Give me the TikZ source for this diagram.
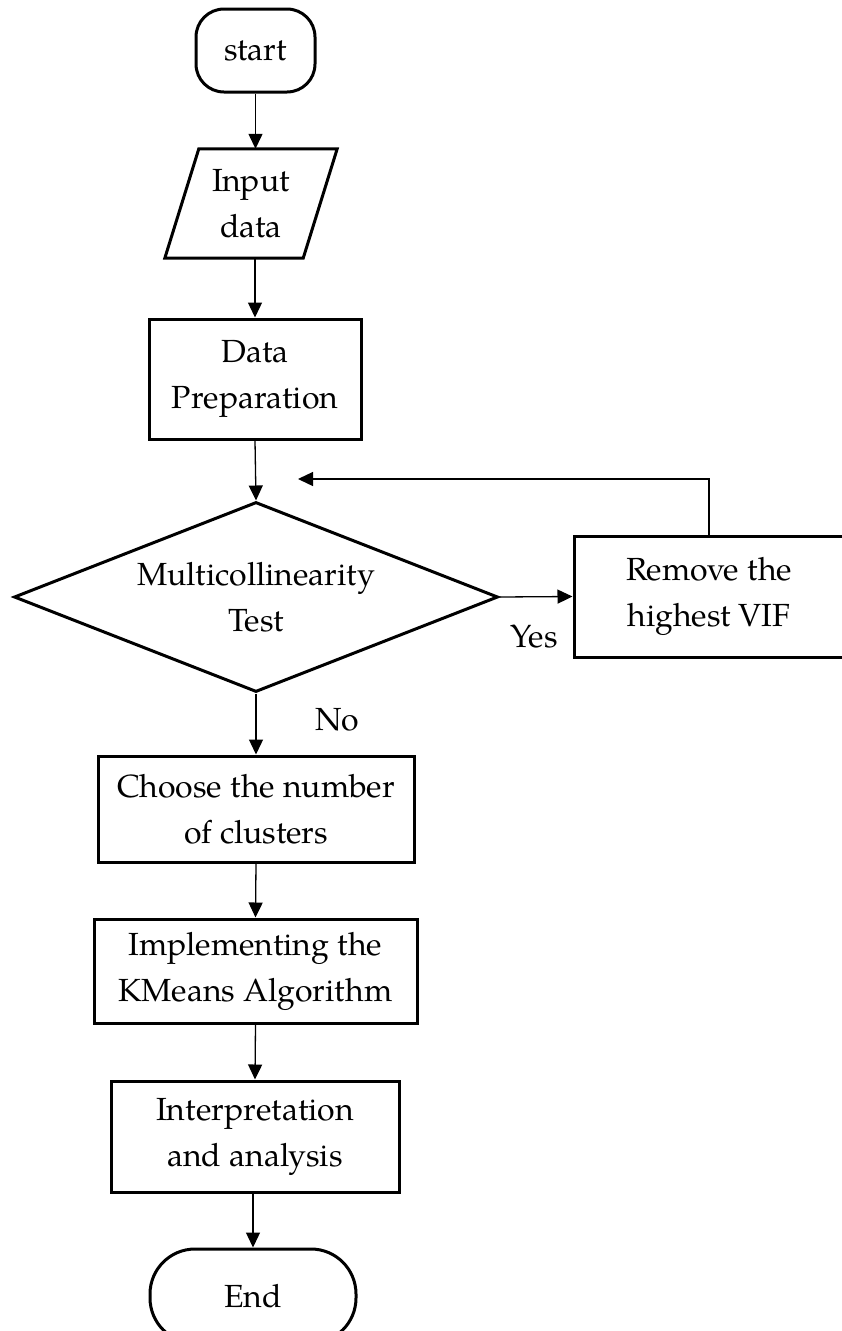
\documentclass[tikz,border=0pt]{standalone}
\usepackage{fontspec}
\setmainfont{TeX Gyre Pagella}
\usepackage{tikz}
\usetikzlibrary{shapes.geometric, arrows.meta, positioning}

\begin{document}
\begin{tikzpicture}[
        x=1pt, y=-1pt,
        >={Triangle[length=15pt, width=14pt]},
        baseNode/.style={
            draw=black,
            line width=3pt,
            inner sep=0pt,
            align=center,
            font=\fontsize{32}{46}\selectfont
        },
        termNode/.style={
            baseNode,
            rectangle,
            rounded corners=28pt
        },
        ioNode/.style={
            inner sep=0pt,
            align=center,
            minimum width=138pt,
            minimum height=109pt,
            font=\fontsize{32}{46}\selectfont
        },
        ioBorder/.style={
            draw=black,
            line width=3pt,
            line join=miter
        },
        procNode/.style={
            baseNode,
            rectangle
        },
        decisionNode/.style={
            baseNode,
            diamond,
            aspect=2.55,
            minimum width=484pt,
            minimum height=190pt
        },
        edgeLabel/.style={
            inner sep=0pt,
            font=\fontsize{32}{46}\selectfont
        },
        flowArrow/.style={
            ->,
            line width=1.3pt,
            black
        }
    ]
    \useasboundingbox (0,0) rectangle (842,1331);

    % Main column (coordinates taken from the layout grid)
    \node[termNode, minimum width=119pt, minimum height=83pt] (start) at (255.5, 50.5) {start};
    \node[ioNode] (input) at (251, 203.5) {Input\\data};
    \node[procNode, minimum width=212pt, minimum height=120pt] (prep) at (255, 379) {Data\\Preparation};
    \node[decisionNode] (multi) at (256, 597) {Multicollinearity\\Test};
    \node[procNode, minimum width=270pt, minimum height=121pt] (remove) at (709, 596.5) {Remove the\\highest VIF};
    \node[procNode, minimum width=316pt, minimum height=106pt] (choose) at (256, 809) {Choose the number\\of clusters};
    \node[procNode, minimum width=323pt, minimum height=104pt] (kmeans) at (255.5, 971) {Implementing the\\KMeans Algorithm};
    \node[procNode, minimum width=288pt, minimum height=111pt] (interp) at (255, 1136.5) {Interpretation\\and analysis};
    \node[termNode, rounded corners=45pt, minimum width=206pt, minimum height=94pt] (end) at (253, 1296) {End};

    % Slanted input box
    \draw[ioBorder] ([xshift=17pt]input.north west) -- ([xshift=17pt]input.north east)
        -- ([xshift=-17pt]input.south east) -- ([xshift=-17pt]input.south west) -- cycle;

    \coordinate (loopEnd) at (298, 479);

    % Labels
    \node[edgeLabel] (yesLabel) at (534, 637) {Yes};
    \node[edgeLabel] (noLabel) at (337, 720) {No};

    % Connections
    \draw[flowArrow] (start.south) -- (start.south |- input.north);
    \draw[flowArrow] (prep.north |- input.south) -- (prep.north);
    \draw[flowArrow] (prep.south) -- (multi.north);
    \draw[flowArrow] (multi.east) -- (remove.west);
    \draw[flowArrow] (remove.north) |- (loopEnd);
    \draw[flowArrow] (multi.south) -- (choose.north);
    \draw[flowArrow] (choose.south) -- (kmeans.north);
    \draw[flowArrow] (kmeans.south) -- (interp.north);
    \draw[flowArrow] (end.north |- interp.south) -- (end.north);

\end{tikzpicture}
\end{document}
